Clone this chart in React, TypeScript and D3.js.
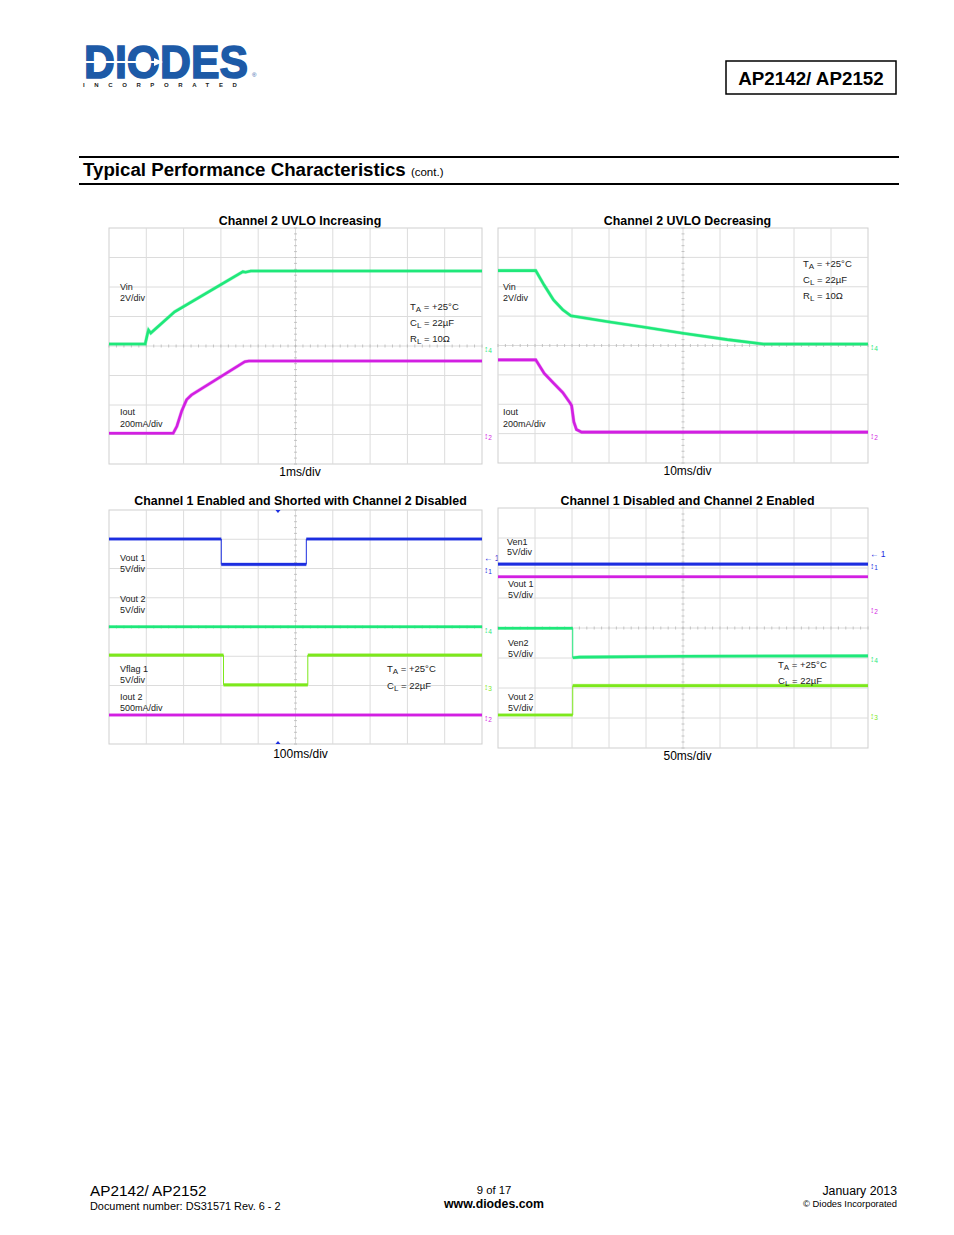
import React from 'react';
import * as d3 from 'd3';

type Pt = [number, number];

const GREEN = '#1fe87a';
const MAGENTA = '#d21fe2';
const BLUE = '#1c2ee0';
const LIME = '#7de81c';

// ---- Data (x in divisions 0..10, y in divisions from top 0..8) ----
// Chart 1: Channel 2 UVLO Increasing
const uvloIncVin: Pt[] = [[0, 3.93], [0.97, 3.93], [1.03, 3.6], [1.06, 3.46], [1.12, 3.56], [1.76, 2.84], [3.59, 1.48], [3.66, 1.5], [3.8, 1.46], [10, 1.46]];
const uvloIncIout: Pt[] = [[0, 6.96], [1.72, 6.96], [1.82, 6.72], [1.95, 6.2], [2.08, 5.82], [2.21, 5.66], [3.64, 4.53], [3.75, 4.51], [10, 4.51]];
// Chart 2: Channel 2 UVLO Decreasing
const uvloDecVin: Pt[] = [[0, 1.45], [1.02, 1.45], [1.25, 1.95], [1.5, 2.45], [1.75, 2.78], [1.97, 2.99], [2.98, 3.19], [3.97, 3.38], [5.0, 3.58], [6.2, 3.8], [7.17, 3.95], [10, 3.95]];
const uvloDecIout: Pt[] = [[0, 4.49], [1.02, 4.49], [1.25, 4.95], [1.5, 5.28], [1.75, 5.6], [1.95, 5.96], [1.99, 6.05], [2.05, 6.6], [2.12, 6.86], [2.26, 6.95], [10, 6.95]];
// Chart 3: Channel 1 Enabled and Shorted with Channel 2 Disabled
const shortVout1: Pt[] = [[0, 0.99], [3.01, 0.99], [3.01, 1.86], [5.29, 1.86], [5.29, 0.99], [10, 0.99]];
const shortVout2: Pt[] = [[0, 3.99], [10, 3.99]];
const shortVflag1: Pt[] = [[0, 4.96], [3.07, 4.96], [3.07, 5.98], [5.33, 5.98], [5.33, 4.96], [10, 4.96]];
const shortIout2: Pt[] = [[0, 7.01], [10, 7.01]];
// Chart 4: Channel 1 Disabled and Channel 2 Enabled
const enVen1: Pt[] = [[0, 1.87], [10, 1.87]];
const enVout1: Pt[] = [[0, 2.29], [10, 2.29]];
const enVen2: Pt[] = [[0, 4.01], [2.02, 4.01], [2.02, 4.99], [2.2, 4.97], [5, 4.94], [10, 4.93]];
const enVout2: Pt[] = [[0, 6.9], [2.02, 6.9], [2.02, 5.92], [10, 5.92]];

const chartTitles = [
  'Channel 2 UVLO Increasing',
  'Channel 2 UVLO Decreasing',
  'Channel 1 Enabled and Shorted with Channel 2 Disabled',
  'Channel 1 Disabled and Channel 2 Enabled',
];
const timeBases = ['1ms/div', '10ms/div', '100ms/div', '50ms/div'];

const FONT = '"Liberation Sans", Arial, sans-serif';

type Label = { t: string; x: number; y: number };
type Cond = { main: string; sub: string; rest: string };
type Marker = { t: string; color: string; y: number; arrow?: boolean };

interface ScopeProps {
  x0: number; x1: number; y0: number; y1: number;
  title: string; titleX: number; titleY: number;
  base: string; baseY: number;
  traces: { pts: Pt[]; color: string }[];
  labels: Label[];
  conds: Cond[]; condX: number; condY: number; condStep: number;
  markers: Marker[];
  trigger?: number;
}

const Scope: React.FC<ScopeProps> = (p) => {
  const xs = d3.scaleLinear().domain([0, 10]).range([p.x0, p.x1]);
  const ys = d3.scaleLinear().domain([0, 8]).range([p.y0, p.y1]);
  const line = d3.line<Pt>().x((d) => xs(d[0])).y((d) => ys(d[1]));
  const grid: JSX.Element[] = [];
  for (let i = 1; i < 10; i++) grid.push(<line key={'v' + i} x1={xs(i)} x2={xs(i)} y1={p.y0} y2={p.y1} stroke="#dcdcdc" strokeWidth={1} />);
  for (let j = 1; j < 8; j++) grid.push(<line key={'h' + j} x1={p.x0} x2={p.x1} y1={ys(j)} y2={ys(j)} stroke="#dcdcdc" strokeWidth={1} />);
  const ticks: JSX.Element[] = [];
  for (let i = 0; i <= 50; i++) {
    const x = xs(i / 5);
    ticks.push(<line key={'tx' + i} x1={x} x2={x} y1={ys(4) - 1.5} y2={ys(4) + 1.5} stroke="#b8b8b8" strokeWidth={0.8} />);
  }
  for (let j = 0; j <= 40; j++) {
    const y = ys(j / 5);
    ticks.push(<line key={'ty' + j} x1={xs(5) - 1.5} x2={xs(5) + 1.5} y1={y} y2={y} stroke="#b8b8b8" strokeWidth={0.8} />);
  }
  const cx = p.titleX;
  return (
    <g>
      <text x={cx} y={p.titleY} textAnchor="middle" fontFamily={FONT} fontWeight="bold" fontSize={12.4}>{p.title}</text>
      <rect x={p.x0} y={p.y0} width={p.x1 - p.x0} height={p.y1 - p.y0} fill="#fff" stroke="#cfcfcf" strokeWidth={1} />
      {grid}
      {ticks}
      {p.traces.map((tr, k) => {
        const segs: JSX.Element[] = [];
        for (let i = 0; i < tr.pts.length - 1; i++) {
          const a = tr.pts[i], b = tr.pts[i + 1];
          const vertical = Math.abs(a[0] - b[0]) < 0.001;
          if (vertical) segs.push(<path key={i} d={line([a, b]) || ''} stroke={tr.color} strokeWidth={1} fill="none" />);
        }
        const horiz: Pt[][] = [];
        let cur: Pt[] = [tr.pts[0]];
        for (let i = 1; i < tr.pts.length; i++) {
          const a = tr.pts[i - 1], b = tr.pts[i];
          if (Math.abs(a[0] - b[0]) < 0.001) { horiz.push(cur); cur = [b]; } else cur.push(b);
        }
        horiz.push(cur);
        return (
          <g key={k}>
            {segs}
            {horiz.filter((h) => h.length > 1).map((h, m) => (
              <g key={m}>
                <path d={line(h) || ''} stroke={tr.color} strokeWidth={3.6} fill="none" strokeOpacity={0.35} />
                <path d={line(h) || ''} stroke={tr.color} strokeWidth={2.6} fill="none" />
              </g>
            ))}
          </g>
        );
      })}
      {p.labels.map((l, i) => (
        <text key={'l' + i} x={l.x} y={l.y} fontFamily={FONT} fontSize={9} fill="#222">{l.t}</text>
      ))}
      {p.conds.map((c, i) => (
        <text key={'c' + i} x={p.condX} y={p.condY + i * p.condStep} fontFamily={FONT} fontSize={9.5} fill="#222">
          {c.main}<tspan fontSize={8} dy={2}>{c.sub}</tspan><tspan dy={-2}>{c.rest}</tspan>
        </text>
      ))}
      {p.markers.map((m, i) => (
        <text key={'m' + i} x={p.x1 + 2} y={ys(m.y) + 3.5} fontFamily={FONT} fontSize={8.5} fill={m.color}>
          {m.arrow ? '\u2190 1' : '\u2195'}{m.arrow ? '' : <tspan fontSize={6.5} dy={1}>{m.t}</tspan>}
        </text>
      ))}
      {p.trigger !== undefined && (
        <g fill={BLUE}>
          <path d={`M${xs(p.trigger) - 2.5},${p.y0} L${xs(p.trigger) + 2.5},${p.y0} L${xs(p.trigger)},${p.y0 + 3} Z`} />
          <path d={`M${xs(p.trigger) - 2.5},${p.y1} L${xs(p.trigger) + 2.5},${p.y1} L${xs(p.trigger)},${p.y1 - 3} Z`} />
        </g>
      )}
      <text x={cx} y={p.baseY} textAnchor="middle" fontFamily={FONT} fontSize={12}>{p.base}</text>
    </g>
  );
};

const condsRL: Cond[] = [
  { main: 'T', sub: 'A', rest: ' = +25°C' },
  { main: 'C', sub: 'L', rest: ' = 22µF' },
  { main: 'R', sub: 'L', rest: ' = 10Ω' },
];
const condsCL: Cond[] = condsRL.slice(0, 2);

export default function App() {
  return (
    <svg width={954} height={1235} style={{ position: 'absolute', left: 0, top: 0, background: '#fff' }}>
      <rect x={0} y={0} width={954} height={1235} fill="#fff" />
      {/* Logo (single text element with positioned parts) */}
      <g>
        <text fontFamily={FONT}>
          <tspan x={84} y={77.5} fontWeight="bold" fontSize={46} fill="#1d5aa7" stroke="#1d5aa7" strokeWidth={1.6} textLength={164} lengthAdjust="spacingAndGlyphs">DIODES</tspan>
          <tspan x={252} y={77} fontSize={6} fill="#1d5aa7">®</tspan>
          <tspan x={83} y={87} fontWeight="bold" fontSize={6} fill="#222" letterSpacing={9.6}>INCORPORATED</tspan>
        </text>
        <line x1={84} y1={62} x2={158} y2={62} stroke="#fff" strokeWidth={2} />
        <path d="M154,58 L163,62 L154,66 Z" fill="#fff" />
      </g>
      {/* Header box */}
      <rect x={726} y={61} width={170} height={33} fill="none" stroke="#000" strokeWidth={1.5} />
      <text x={811} y={85} textAnchor="middle" fontFamily={FONT} fontWeight="bold" fontSize={18.8}>AP2142/ AP2152</text>
      {/* Section title */}
      <line x1={79} x2={899} y1={157} y2={157} stroke="#000" strokeWidth={2} />
      <text x={83} y={176} fontFamily={FONT} fontWeight="bold" fontSize={18.7}>Typical Performance Characteristics <tspan fontWeight="normal" fontSize={11.5}>(cont.)</tspan></text>
      <line x1={79} x2={899} y1={184} y2={184} stroke="#000" strokeWidth={2} />

      <Scope x0={109} x1={482} y0={228} y1={464} title={chartTitles[0]} titleX={300} titleY={225} base={timeBases[0]} baseY={476}
        traces={[{ pts: uvloIncVin, color: GREEN }, { pts: uvloIncIout, color: MAGENTA }]}
        labels={[{ t: 'Vin', x: 120, y: 290 }, { t: '2V/div', x: 120, y: 301 }, { t: 'Iout', x: 120, y: 415 }, { t: '200mA/div', x: 120, y: 427 }]}
        conds={condsRL} condX={410} condY={310} condStep={16}
        markers={[{ t: '4', color: GREEN, y: 4.07 }, { t: '2', color: MAGENTA, y: 7.05 }]} />

      <Scope x0={498} x1={868} y0={228} y1={463} title={chartTitles[1]} titleX={687.5} titleY={225} base={timeBases[1]} baseY={475}
        traces={[{ pts: uvloDecVin, color: GREEN }, { pts: uvloDecIout, color: MAGENTA }]}
        labels={[{ t: 'Vin', x: 503, y: 290 }, { t: '2V/div', x: 503, y: 301 }, { t: 'Iout', x: 503, y: 415 }, { t: '200mA/div', x: 503, y: 427 }]}
        conds={condsRL} condX={803} condY={267} condStep={16}
        markers={[{ t: '4', color: GREEN, y: 4.05 }, { t: '2', color: MAGENTA, y: 7.07 }]} />

      <Scope x0={109} x1={482} y0={510} y1={744} title={chartTitles[2]} titleX={300.5} titleY={505} base={timeBases[2]} baseY={758}
        traces={[{ pts: shortVout1, color: BLUE }, { pts: shortVout2, color: GREEN }, { pts: shortVflag1, color: LIME }, { pts: shortIout2, color: MAGENTA }]}
        labels={[{ t: 'Vout 1', x: 120, y: 560.5 }, { t: '5V/div', x: 120, y: 571.5 }, { t: 'Vout 2', x: 120, y: 601.5 }, { t: '5V/div', x: 120, y: 612.5 },
          { t: 'Vflag 1', x: 120, y: 671.5 }, { t: '5V/div', x: 120, y: 682.5 }, { t: 'Iout 2', x: 120, y: 699.5 }, { t: '500mA/div', x: 120, y: 710.5 }]}
        conds={condsCL} condX={387} condY={671.5} condStep={17}
        markers={[{ t: '1', color: BLUE, y: 1.64, arrow: true }, { t: '1', color: BLUE, y: 2.05 }, { t: '4', color: GREEN, y: 4.1 }, { t: '3', color: LIME, y: 6.05 }, { t: '2', color: MAGENTA, y: 7.08 }]}
        trigger={4.53} />

      <Scope x0={498} x1={868} y0={508} y1={748} title={chartTitles[3]} titleX={687.5} titleY={505} base={timeBases[3]} baseY={760}
        traces={[{ pts: enVen1, color: BLUE }, { pts: enVout1, color: MAGENTA }, { pts: enVen2, color: GREEN }, { pts: enVout2, color: LIME }]}
        labels={[{ t: 'Ven1', x: 507, y: 544.5 }, { t: '5V/div', x: 507, y: 554.5 }, { t: 'Vout 1', x: 508, y: 586.5 }, { t: '5V/div', x: 508, y: 597.5 },
          { t: 'Ven2', x: 508, y: 645.5 }, { t: '5V/div', x: 508, y: 656.5 }, { t: 'Vout 2', x: 508, y: 699.5 }, { t: '5V/div', x: 508, y: 710.5 }]}
        conds={condsCL} condX={778} condY={667.5} condStep={16}
        markers={[{ t: '1', color: BLUE, y: 1.5, arrow: true }, { t: '1', color: BLUE, y: 1.9 }, { t: '2', color: MAGENTA, y: 3.37 }, { t: '4', color: GREEN, y: 5.03 }, { t: '3', color: LIME, y: 6.93 }]} />

      {/* Footer */}
      <text x={90} y={1196} fontFamily={FONT} fontSize={15.3}>AP2142/ AP2152</text>
      <text x={90} y={1210} fontFamily={FONT} fontSize={10.9}>Document number: DS31571 Rev. 6 - 2</text>
      <text x={494} y={1194} textAnchor="middle" fontFamily={FONT} fontSize={11.3}>9 of 17</text>
      <text x={494} y={1208} textAnchor="middle" fontFamily={FONT} fontWeight="bold" fontSize={12.3}>www.diodes.com</text>
      <text x={897} y={1195} textAnchor="end" fontFamily={FONT} fontSize={12.3}>January 2013</text>
      <text x={897} y={1207} textAnchor="end" fontFamily={FONT} fontSize={9.4}>© Diodes Incorporated</text>
    </svg>
  );
}
